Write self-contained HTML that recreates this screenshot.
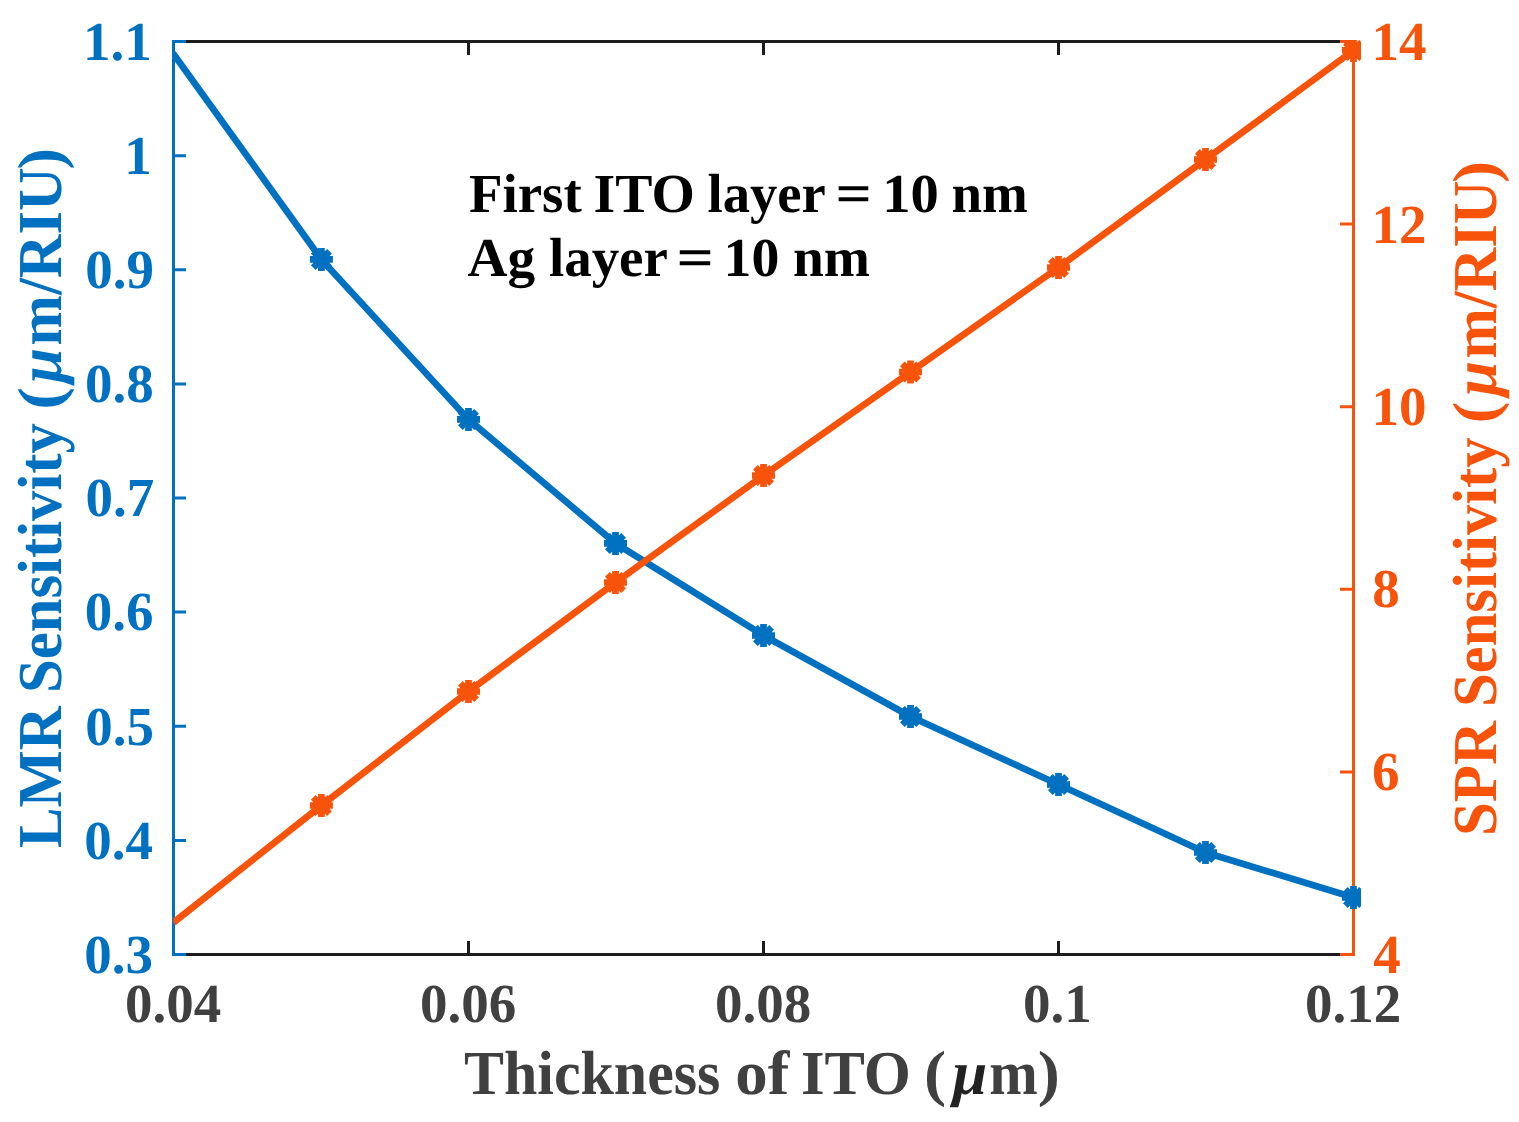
<!DOCTYPE html>
<html><head><meta charset="utf-8"><title>LMR and SPR Sensitivity vs Thickness of ITO</title>
<style>
html,body{margin:0;padding:0;background:#fff;width:1519px;height:1122px;overflow:hidden}
svg{display:block}
text{font-family:"Liberation Serif","Times New Roman",serif;font-weight:bold;text-rendering:geometricPrecision}
</style></head><body>
<svg width="1519" height="1122" viewBox="0 0 1519 1122">
<defs><clipPath id="c"><rect x="173.2" y="40" width="1187.8" height="1082"/></clipPath></defs>
<rect width="1519" height="1122" fill="#fff"/>

<g stroke="#1c1c1c" stroke-width="3" fill="none">
<path d="M172 41.5H1355M172 954.5H1355"/>
<path d="M173.50 954.5V941.0M173.50 41.5V55.0M468.50 954.5V941.0M468.50 41.5V55.0M763.50 954.5V941.0M763.50 41.5V55.0M1058.50 954.5V941.0M1058.50 41.5V55.0M1353.50 954.5V941.0M1353.50 41.5V55.0"/></g>
<g stroke="#0071C0" stroke-width="3" fill="none">
<path d="M173.5 40V956"/>
<path d="M172 954.50H186M172 840.38H186M172 726.25H186M172 612.12H186M172 498.00H186M172 383.88H186M172 269.75H186M172 155.63H186M172 41.50H186"/></g>
<g stroke="#F8530A" stroke-width="3" fill="none">
<path d="M1353.5 40V956"/>
<path d="M1340 954.50H1355M1340 771.90H1355M1340 589.30H1355M1340 406.70H1355M1340 224.10H1355M1340 41.50H1355"/></g>
<g clip-path="url(#c)" fill="none" stroke-width="6.7" stroke-linejoin="round">
<path stroke="#0071C0" stroke-linecap="round" d="M173.50 54.00 L321.40 259.40 L468.50 419.40 L615.50 543.40 L763.50 635.50 L910.50 716.50 L1058.50 784.50 L1205.50 852.50 L1353.50 897.50"/>
<path stroke="#0071C0" d="M309.90 259.40H332.90M321.40 247.90V270.90M313.27 251.27L329.53 267.53M313.27 267.53L329.53 251.27M457.00 419.40H480.00M468.50 407.90V430.90M460.37 411.27L476.63 427.53M460.37 427.53L476.63 411.27M604.00 543.40H627.00M615.50 531.90V554.90M607.37 535.27L623.63 551.53M607.37 551.53L623.63 535.27M752.00 635.50H775.00M763.50 624.00V647.00M755.37 627.37L771.63 643.63M755.37 643.63L771.63 627.37M899.00 716.50H922.00M910.50 705.00V728.00M902.37 708.37L918.63 724.63M902.37 724.63L918.63 708.37M1047.00 784.50H1070.00M1058.50 773.00V796.00M1050.37 776.37L1066.63 792.63M1050.37 792.63L1066.63 776.37M1194.00 852.50H1217.00M1205.50 841.00V864.00M1197.37 844.37L1213.63 860.63M1197.37 860.63L1213.63 844.37M1342.00 897.50H1365.00M1353.50 886.00V909.00M1345.37 889.37L1361.63 905.63M1345.37 905.63L1361.63 889.37"/>
<path stroke="#F8530A" d="M173.50 922.50 L321.40 805.50 L468.50 691.50 L615.50 582.50 L763.50 475.50 L910.50 372.00 L1058.50 267.50 L1205.50 159.50 L1353.50 50.40"/>
<path stroke="#F8530A" d="M309.90 805.50H332.90M321.40 794.00V817.00M313.27 797.37L329.53 813.63M313.27 813.63L329.53 797.37M457.00 691.50H480.00M468.50 680.00V703.00M460.37 683.37L476.63 699.63M460.37 699.63L476.63 683.37M604.00 582.50H627.00M615.50 571.00V594.00M607.37 574.37L623.63 590.63M607.37 590.63L623.63 574.37M752.00 475.50H775.00M763.50 464.00V487.00M755.37 467.37L771.63 483.63M755.37 483.63L771.63 467.37M899.00 372.00H922.00M910.50 360.50V383.50M902.37 363.87L918.63 380.13M902.37 380.13L918.63 363.87M1047.00 267.50H1070.00M1058.50 256.00V279.00M1050.37 259.37L1066.63 275.63M1050.37 275.63L1066.63 259.37M1194.00 159.50H1217.00M1205.50 148.00V171.00M1197.37 151.37L1213.63 167.63M1197.37 167.63L1213.63 151.37M1342.00 50.40H1365.00M1353.50 38.90V61.90M1345.37 42.27L1361.63 58.53M1345.37 58.53L1361.63 42.27"/>
</g>
<g fill="#0071C0" font-size="55" text-anchor="end">
<text x="151.85" y="59.50">1.1</text>
<text x="151.85" y="173.50">1</text>
<text x="153.99" y="287.50">0.9</text>
<text x="153.83" y="401.50">0.8</text>
<text x="154.34" y="515.50">0.7</text>
<text x="153.61" y="629.50">0.6</text>
<text x="154.01" y="744.50">0.5</text>
<text x="153.02" y="858.50">0.4</text>
<text x="152.88" y="972.50">0.3</text>
</g>
<g fill="#F8530A" font-size="55">
<text x="1371.60" y="59.50">14</text>
<text x="1371.60" y="242.50">12</text>
<text x="1371.60" y="424.50">10</text>
<text x="1372.17" y="606.50">8</text>
<text x="1372.12" y="789.50">6</text>
<text x="1373.25" y="972.50">4</text>
</g>
<g fill="#404040" font-size="55">
<text x="124.91" y="1021.50">0.04</text>
<text x="419.91" y="1021.50">0.06</text>
<text x="714.91" y="1021.50">0.08</text>
<text x="1022.91" y="1021.50">0.1</text>
<text x="1304.91" y="1021.50">0.12</text>
</g>
<g fill="#404040">
<text x="463.94" y="1093.7" font-size="62.5" textLength="256.47" lengthAdjust="spacingAndGlyphs">Thickness</text>
<text x="735.31" y="1093.7" font-size="62.5" textLength="54.00" lengthAdjust="spacingAndGlyphs">of</text>
<text x="800.96" y="1093.7" font-size="62.5" textLength="109.94" lengthAdjust="spacingAndGlyphs">ITO</text>
<text x="924.08" y="1093.7" font-size="62.5" textLength="22.13" lengthAdjust="spacingAndGlyphs">(</text>
<text x="952.40" y="1093.7" font-size="62.5" textLength="34.72" lengthAdjust="spacingAndGlyphs" fill="#222"><tspan font-style="italic">μ</tspan></text>
<text x="989.37" y="1093.7" font-size="62.5" textLength="48.54" lengthAdjust="spacingAndGlyphs">m</text>
<text x="1037.78" y="1093.7" font-size="62.5" textLength="22.13" lengthAdjust="spacingAndGlyphs">)</text>
</g>
<g fill="#0071C0" transform="translate(60.9 0) rotate(-90)">
<text x="-848.03" y="0" font-size="62.5" textLength="141.77" lengthAdjust="spacingAndGlyphs">LMR</text>
<text x="-693.06" y="0" font-size="62.5" textLength="270.01" lengthAdjust="spacingAndGlyphs">Sensitivity</text>
<text x="-409.69" y="0" font-size="62.5" textLength="22.65" lengthAdjust="spacingAndGlyphs">(</text>
<text x="-382.98" y="0" font-size="62.5" textLength="35.11" lengthAdjust="spacingAndGlyphs"><tspan font-style="italic">μ</tspan></text>
<text x="-345.39" y="0" font-size="62.5" textLength="177.97" lengthAdjust="spacingAndGlyphs">m/RIU</text>
<text x="-169.57" y="0" font-size="62.5" textLength="21.53" lengthAdjust="spacingAndGlyphs">)</text>
</g>
<g fill="#F8530A" transform="translate(1495.8 0) rotate(-90)">
<text x="-836.06" y="0" font-size="62.5" textLength="114.85" lengthAdjust="spacingAndGlyphs">SPR</text>
<text x="-707.06" y="0" font-size="62.5" textLength="269.70" lengthAdjust="spacingAndGlyphs">Sensitivity</text>
<text x="-423.35" y="0" font-size="62.5" textLength="21.61" lengthAdjust="spacingAndGlyphs">(</text>
<text x="-396.08" y="0" font-size="62.5" textLength="35.01" lengthAdjust="spacingAndGlyphs"><tspan font-style="italic">μ</tspan></text>
<text x="-358.49" y="0" font-size="62.5" textLength="177.87" lengthAdjust="spacingAndGlyphs">m/RIU</text>
<text x="-182.69" y="0" font-size="62.5" textLength="21.80" lengthAdjust="spacingAndGlyphs">)</text>
</g>
<g fill="#000">
<text x="469.00" y="212" font-size="55" textLength="112.76" lengthAdjust="spacingAndGlyphs">First</text>
<text x="593.53" y="212" font-size="55" textLength="101.25" lengthAdjust="spacingAndGlyphs">ITO</text>
<text x="707.51" y="212" font-size="55" textLength="118.29" lengthAdjust="spacingAndGlyphs">layer</text>
<text x="835.62" y="212" font-size="55" textLength="36.26" lengthAdjust="spacingAndGlyphs">=</text>
<text x="882.27" y="212" font-size="55" textLength="56.59" lengthAdjust="spacingAndGlyphs">10</text>
<text x="951.40" y="212" font-size="55" textLength="76.30" lengthAdjust="spacingAndGlyphs">nm</text>
<text x="467.40" y="276" font-size="55" textLength="67.69" lengthAdjust="spacingAndGlyphs">Ag</text>
<text x="548.90" y="276" font-size="55" textLength="119.01" lengthAdjust="spacingAndGlyphs">layer</text>
<text x="676.52" y="276" font-size="55" textLength="37.37" lengthAdjust="spacingAndGlyphs">=</text>
<text x="723.64" y="276" font-size="55" textLength="55.79" lengthAdjust="spacingAndGlyphs">10</text>
<text x="792.99" y="276" font-size="55" textLength="77.03" lengthAdjust="spacingAndGlyphs">nm</text>
</g>
</svg></body></html>
